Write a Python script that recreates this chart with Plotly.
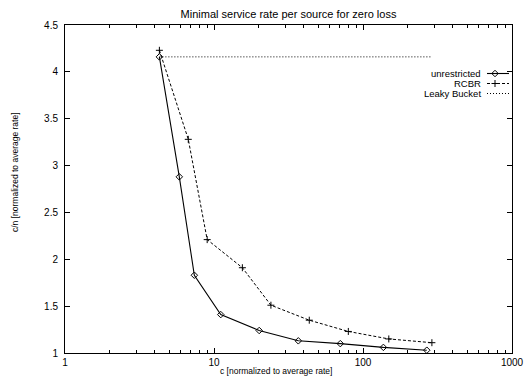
import plotly.graph_objects as go

unres_x = [4.3, 5.85, 7.38, 11.1, 20.1, 36.8, 70.4, 137, 268]
unres_y = [4.16, 2.88, 1.83, 1.41, 1.24, 1.13, 1.10, 1.06, 1.03]

rcbr_x = [4.3, 6.72, 9.0, 15.5, 24.1, 43.6, 79.7, 149, 290]
rcbr_y = [4.23, 3.28, 2.21, 1.91, 1.51, 1.35, 1.23, 1.15, 1.11]

leaky_x = [4.3, 290]
leaky_y = [4.16, 4.16]

x_ticks = [1, 10, 100, 1000]
y_ticks = [1, 1.5, 2, 2.5, 3, 3.5, 4, 4.5]
y_tick_labels = ["1", "1.5", "2", "2.5", "3", "3.5", "4", "4.5"]

FONT = "Liberation Sans, Arial, Helvetica, sans-serif"

fig = go.Figure()
fig.add_trace(go.Scatter(x=leaky_x, y=leaky_y, mode="lines",
                         line=dict(color="black", width=1, dash="1px,2px"),
                         name="Leaky Bucket"))
fig.add_trace(go.Scatter(x=rcbr_x, y=rcbr_y, mode="lines+markers",
                         line=dict(color="black", width=1, dash="3px,2px"),
                         marker=dict(symbol="cross-thin", size=5,
                                     line=dict(color="black", width=1)),
                         name="RCBR"))
fig.add_trace(go.Scatter(x=unres_x, y=unres_y, mode="lines+markers",
                         line=dict(color="black", width=1.1),
                         marker=dict(symbol="diamond-open", size=5, color="black",
                                     line=dict(color="black", width=1)),
                         name="unrestricted"))

minor_vals = [m * 10 ** e for e in range(0, 3) for m in range(2, 10)]

fig.update_layout(
    width=525, height=377,
    margin=dict(l=65, r=13, t=25, b=24, autoexpand=False),
    paper_bgcolor="white", plot_bgcolor="white",
    showlegend=False,
    font=dict(family=FONT, size=10, color="black"),
    title=dict(text="Minimal service rate per source for zero loss",
               x=0.5, xanchor="center", y=1 - 14 / 377, yanchor="middle",
               xref="paper", automargin=False,
               font=dict(family=FONT, size=11, color="black")),
    xaxis=dict(type="log", range=[0, 3], tickmode="array", tickvals=x_ticks,
               ticktext=[str(v) for v in x_ticks], automargin=False,
               ticks="inside", ticklen=5, tickcolor="black", tickwidth=1,
               minor=dict(tickmode="array", tickvals=minor_vals, ticks="inside",
                          ticklen=3, tickcolor="black", tickwidth=1, showgrid=False),
               showline=True, linecolor="black", linewidth=1, mirror="allticks",
               showgrid=False, zeroline=False,
               tickfont=dict(family=FONT, size=10)),
    yaxis=dict(range=[1, 4.5], tickmode="array", tickvals=y_ticks,
               ticktext=y_tick_labels, automargin=False,
               ticks="inside", ticklen=5, tickcolor="black", tickwidth=1,
               showline=True, linecolor="black", linewidth=1, mirror="allticks",
               showgrid=False, zeroline=False, ticklabelstandoff=4,
               tickfont=dict(family=FONT, size=10)),
)


def px_to_paper_x(px):
    return (px - 65) / (512 - 65)


def px_to_paper_y(py):
    return 1 - (py - 25) / (353 - 25)


# Axis titles (placed as in the reference)
fig.add_annotation(x=px_to_paper_x(276), y=px_to_paper_y(371), xref="paper", yref="paper",
                   text="c [normalized to average rate]", showarrow=False,
                   xanchor="center", yanchor="middle",
                   font=dict(family=FONT, size=8.5, color="black"))
fig.add_annotation(x=px_to_paper_x(15), y=px_to_paper_y(172), xref="paper", yref="paper",
                   text="c/n [normalized to average rate]", showarrow=False,
                   textangle=-90, xanchor="center", yanchor="middle",
                   font=dict(family=FONT, size=8.5, color="black"))

# Legend (gnuplot style: text right-aligned, sample to the right)
legend_items = [
    ("unrestricted", dict(color="black", width=1.1), "diamond-open"),
    ("RCBR", dict(color="black", width=1, dash="3px,2px"), "cross-thin"),
    ("Leaky Bucket", dict(color="black", width=1, dash="1px,2px"), None),
]
leg_py = [73.5, 83.5, 93.5]
for (label, ln, sym), py in zip(legend_items, leg_py):
    yy = px_to_paper_y(py)
    fig.add_annotation(x=px_to_paper_x(483), y=yy, xref="paper", yref="paper",
                       text=label, showarrow=False, xanchor="right", yanchor="middle",
                       font=dict(family=FONT, size=9.5, color="black"))
    fig.add_shape(type="line", xref="paper", yref="paper",
                  x0=px_to_paper_x(487), x1=px_to_paper_x(509), y0=yy, y1=yy, line=ln)
    if sym:
        fig.add_trace(go.Scatter(x=[px_to_paper_x(495)], y=[yy], xaxis="x2", yaxis="y2",
                                 mode="markers", showlegend=False, hoverinfo="skip",
                                 marker=dict(symbol=sym, size=5, color="black",
                                             line=dict(color="black", width=1))))

fig.update_layout(
    xaxis2=dict(overlaying="x", range=[0, 1], visible=False),
    yaxis2=dict(overlaying="y", range=[0, 1], visible=False),
)

fig.write_html("out.html",
               config={"displayModeBar": False},
               post_script="document.body.style.margin='0';document.body.style.padding='0';")
